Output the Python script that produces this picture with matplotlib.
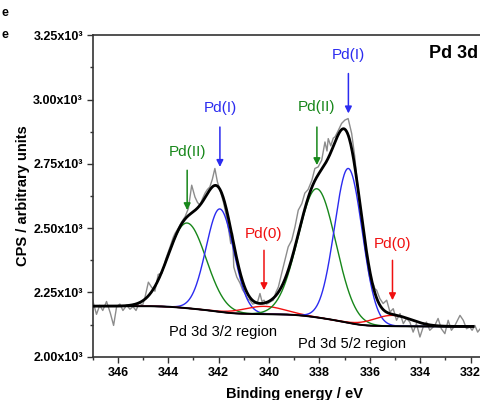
import numpy as np
import matplotlib
matplotlib.use("Agg")
import matplotlib.pyplot as plt
from matplotlib.ticker import MultipleLocator, FuncFormatter

plt.rcParams['font.family'] = ['Liberation Sans', 'DejaVu Sans']
plt.rcParams['font.weight'] = 'bold'

# raw spectrum (binding energy / eV, CPS)
energy = [347.00, 346.85, 346.72, 346.60, 346.45, 346.30, 346.17, 346.05, 345.92, 345.80,
          345.65, 345.52, 345.40, 345.28, 345.15, 345.02, 344.92, 344.79, 344.66, 344.53,
          344.40, 344.25, 344.10, 343.93, 343.80, 343.73, 343.60, 343.47, 343.33, 343.20,
          343.07, 342.94, 342.84, 342.74, 342.64, 342.54, 342.45, 342.35, 342.25, 342.15,
          342.05, 341.95, 341.80, 341.70, 341.62, 341.52, 341.45, 341.40, 341.28, 341.15,
          341.05, 340.95, 340.85, 340.76, 340.65, 340.56, 340.45, 340.36, 340.28, 340.20,
          340.10, 340.03, 339.93, 339.83, 339.73, 339.63, 339.50, 339.37, 339.24, 339.10,
          338.97, 338.84, 338.70, 338.58, 338.45, 338.30, 338.18, 338.05, 337.91, 337.78,
          337.70, 337.65, 337.55, 337.45, 337.38, 337.25, 337.12, 336.99, 336.86, 336.72,
          336.60, 336.52, 336.40, 336.30, 336.20, 336.13, 336.03, 335.93, 335.87, 335.80,
          335.73, 335.60, 335.47, 335.33, 335.20, 335.07, 334.94, 334.80, 334.67, 334.54,
          334.41, 334.28, 334.15, 334.01, 333.88, 333.75, 333.62, 333.42, 333.29, 333.16,
          333.02, 332.89, 332.76, 332.62, 332.42, 332.29, 332.16, 332.03, 331.94, 331.83,
          331.72, 331.56]
cps = [2220, 2165, 2200, 2180, 2215, 2170, 2122, 2195, 2205, 2180,
       2200, 2185, 2195, 2180, 2210, 2200, 2233, 2290, 2270, 2255,
       2320, 2325, 2380, 2427, 2465, 2480, 2500, 2524, 2545, 2577,
       2667, 2621, 2600, 2589, 2615, 2636, 2650, 2660, 2690, 2732,
       2680, 2650, 2597, 2550, 2505, 2440, 2480, 2349, 2310, 2286,
       2260, 2246, 2225, 2220, 2205, 2208, 2215, 2246, 2215, 2220,
       2205, 2208, 2215, 2220, 2250, 2271, 2324, 2375, 2427, 2453,
       2505, 2570, 2595, 2636, 2650, 2686, 2732, 2738, 2764, 2835,
       2800, 2848, 2820, 2850, 2855, 2880, 2907, 2920, 2926, 2868,
       2780, 2700, 2600, 2510, 2430, 2388, 2320, 2278, 2285, 2265,
       2259, 2226, 2207, 2220, 2174, 2187, 2142, 2168, 2129, 2149,
       2135, 2096, 2129, 2077, 2116, 2135, 2103, 2122, 2149, 2109,
       2090, 2142, 2103, 2122, 2161, 2142, 2109, 2116, 2103, 2122,
       2096, 2116]

# fitted components: (label, colour, centre eV, height CPS, sigma eV)
peak_names = ['Pd(II)', 'Pd(I)', 'Pd(0)', 'Pd(II)', 'Pd(I)', 'Pd(0)']
peak_colors = ['#17871a', '#2b2bf0', '#f01010', '#17871a', '#2b2bf0', '#f01010']
peak_centers = [343.25, 341.95, 340.20, 338.10, 336.85, 335.10]
peak_heights = [331, 400, 30, 500, 600, 42]
peak_sigmas = [0.75, 0.55, 0.80, 0.75, 0.55, 0.75]
bg_high = 2197
bg_low = 2118

# arrow / label positions (label y, arrow top, arrow tip)
label_y = [2796, 2966, 2479, 2971, 3172, 2440]
arrow_top = [2725, 2893, 2414, 2893, 3101, 2375]
arrow_tip = [2570, 2738, 2259, 2745, 2946, 2220]

fig = plt.figure(figsize=(4.81, 4.0), dpi=100)
ax = fig.add_axes([0.1927, 0.108, 0.838, 0.804])

x = np.linspace(347, 331.9, 800)
comps = []
for c, h, s in zip(peak_centers, peak_heights, peak_sigmas):
    comps.append(h * np.exp(-(x - c) ** 2 / (2 * s ** 2)))
total_peak = np.sum(comps, axis=0)
# Shirley type background: step proportional to peak area on the low-energy side
area = np.cumsum(total_peak[::-1])[::-1]
bg = bg_low + (bg_high - bg_low) * area / area[0]

ax.plot(energy, cps, color='#8c8c8c', lw=1.0, zorder=1)
for g, col in zip(comps, peak_colors):
    ax.plot(x, bg + g, color=col, lw=1.0, zorder=2)
ax.plot(x, bg, color='black', lw=1.4, zorder=3)
ax.plot(x, bg + total_peak, color='black', lw=2.0, zorder=4)

for name, col, cx, ly, at, tip in zip(peak_names, peak_colors, peak_centers,
                                      label_y, arrow_top, arrow_tip):
    ax.annotate('', xy=(cx, tip), xytext=(cx, at),
                arrowprops=dict(arrowstyle='-|>', color=col, lw=1.1,
                                mutation_scale=10, shrinkA=0, shrinkB=0))
    ax.text(cx, ly, name, color=col, ha='center', va='center',
            fontsize=11, fontweight='normal')

ax.text(341.81, 2096, 'Pd 3d 3/2 region', ha='center', va='center',
        fontsize=10.5, fontweight='normal')
ax.text(336.72, 2051, 'Pd 3d 5/2 region', ha='center', va='center',
        fontsize=10.5, fontweight='normal')
ax.text(331.71, 3180, 'Pd 3d', ha='right', va='center', fontsize=13)

ax.set_xlim(347, 331)
ax.set_ylim(2000, 3250)
ax.xaxis.set_major_locator(MultipleLocator(2))
ax.xaxis.set_minor_locator(MultipleLocator(1))
ax.yaxis.set_major_locator(MultipleLocator(250))
ax.yaxis.set_minor_locator(MultipleLocator(125))
ax.yaxis.set_major_formatter(FuncFormatter(lambda v, p: f'{v / 1000:.2f}x10\u00b3'))
ax.tick_params(which='both', direction='out', top=False, right=False,
               color='#333333', width=1.0)
ax.tick_params(which='major', length=4, labelsize=9, pad=3)
ax.tick_params(which='minor', length=2.5)
for sp in ax.spines.values():
    sp.set_linewidth(1.2)
    sp.set_color('#333333')
ax.set_xlabel('Binding energy / eV', fontsize=10.5, fontweight='bold', labelpad=6)
ax.set_ylabel('CPS / arbitrary units', fontsize=10.5, fontweight='bold', labelpad=2)

fig.text(8 / 481, 1 - 13 / 400, 'e', ha='right', va='center', fontsize=9)
fig.text(8 / 481, 1 - 35 / 400, 'e', ha='right', va='center', fontsize=9)

fig.savefig('out.png', dpi=100)
